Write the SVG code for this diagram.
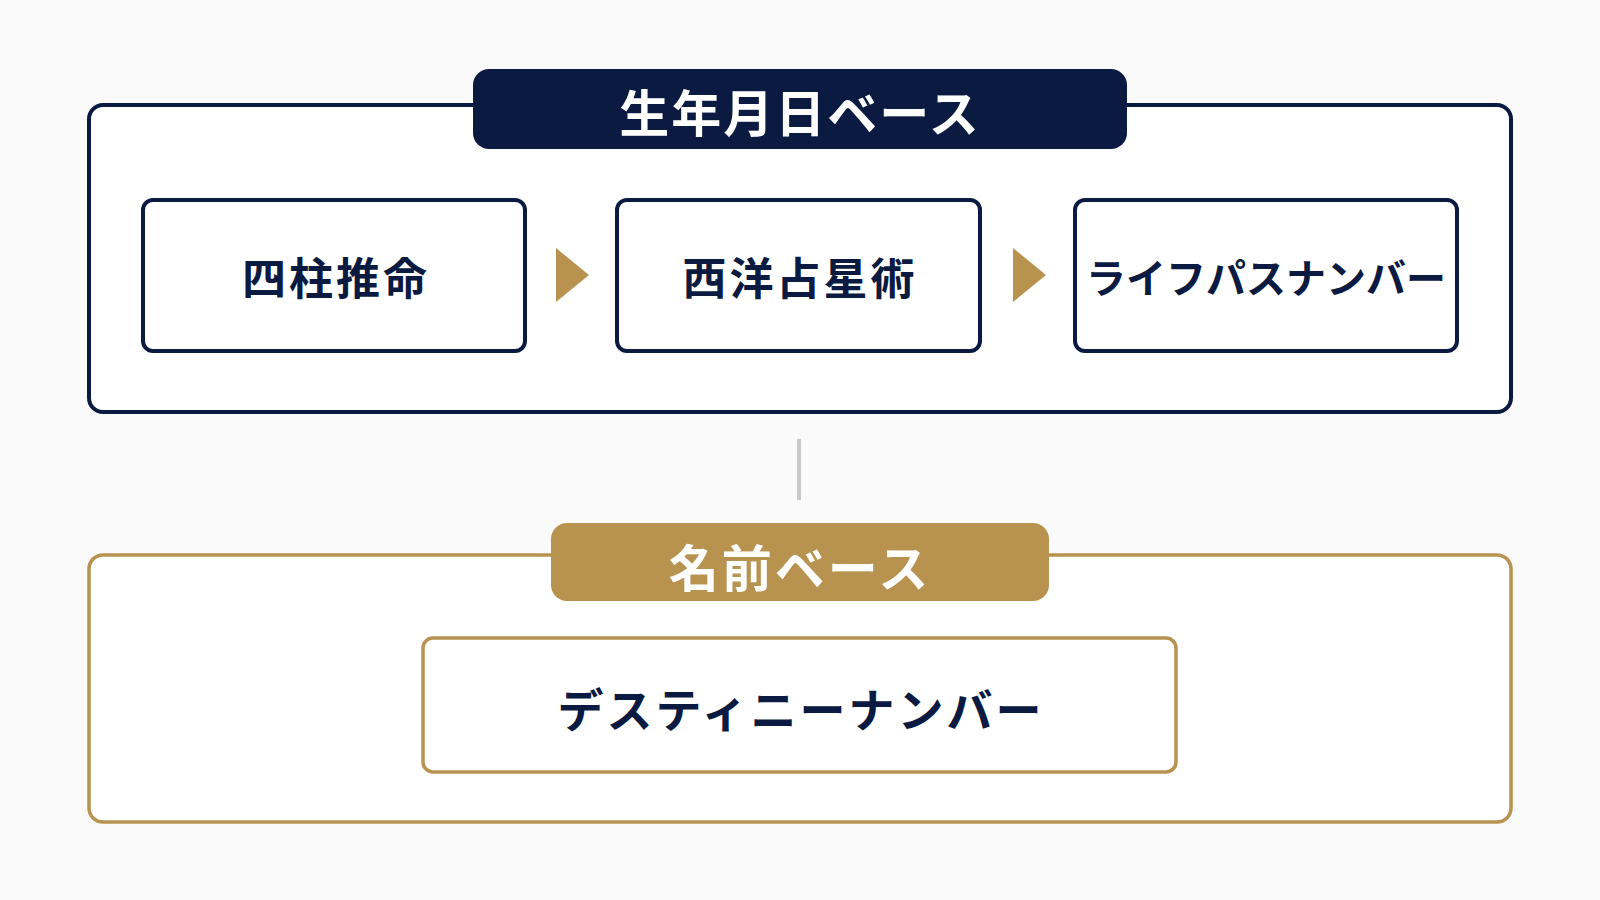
<svg xmlns="http://www.w3.org/2000/svg" width="1600" height="900" viewBox="0 0 1600 900">
<style>
.t{font-family:"Noto Sans CJK JP","Noto Sans",sans-serif;font-weight:700;text-anchor:middle;dominant-baseline:central}
.nb{fill:#fff;stroke:#0b1a40;stroke-width:4}
.gb{fill:#fff;stroke:#b8924f;stroke-width:3.5}
</style>
<rect width="1600" height="900" fill="#fafafa"/>
<g id="group-birth">
<rect x="89" y="105" width="1422" height="307" rx="14" class="nb"/>
<rect x="473" y="69" width="654" height="80" rx="16" fill="#0b1a40"/>
<text x="800" y="110" class="t" font-size="50" letter-spacing="2" fill="#fff">生年月日ベース</text>
</g>
<g id="node-shichu"><rect x="143" y="200" width="382" height="151" rx="10" class="nb"/><text x="336" y="276" class="t" font-size="44" letter-spacing="3" fill="#0b1a40">四柱推命</text></g>
<g id="node-seiyo"><rect x="617" y="200" width="363" height="151" rx="10" class="nb"/><text x="800" y="276" class="t" font-size="44" letter-spacing="3" fill="#0b1a40">西洋占星術</text></g>
<g id="node-life"><rect x="1075" y="200" width="382" height="151" rx="10" class="nb"/><text x="1266" y="276" class="t" font-size="40" fill="#0b1a40">ライフパスナンバー</text></g>
<g id="group-name">
<rect x="89" y="555" width="1422" height="267" rx="14" class="gb"/>
<rect x="551" y="523" width="498" height="78" rx="16" fill="#b8924f"/>
<text x="800" y="565" class="t" font-size="50" letter-spacing="3" fill="#fff">名前ベース</text>
</g>
<g id="node-destiny"><rect x="423" y="638" width="753" height="134" rx="10" class="gb"/><text x="801" y="707" class="t" font-size="46" letter-spacing="3" fill="#0b1a40">デスティニーナンバー</text></g>
<g id="connectors">
<line x1="799" y1="439" x2="799" y2="500" stroke="#c8c8c8" stroke-width="4"/>
<polygon points="556,248 589,275 556,302" fill="#b8924f"/>
<polygon points="1013,248 1046,275 1013,302" fill="#b8924f"/>
</g>
</svg>
